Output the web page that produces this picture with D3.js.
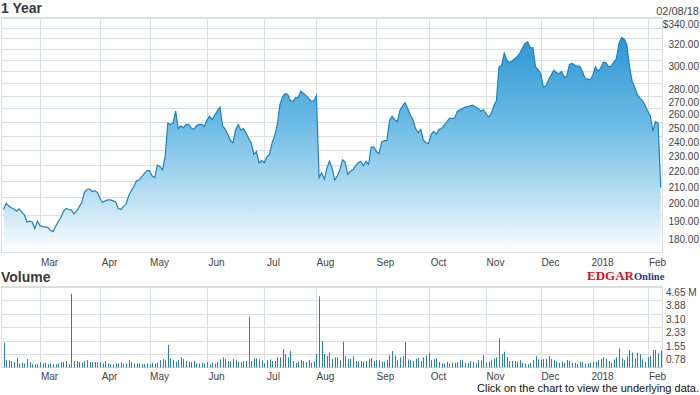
<!DOCTYPE html>
<html>
<head>
<meta charset="utf-8">
<script src="https://cdnjs.cloudflare.com/ajax/libs/d3/7.8.5/d3.min.js"></script>
<style>
body{margin:0;background:#fff;}
svg{display:block;font-family:"Liberation Sans",Arial,sans-serif;}
</style>
</head>
<body>
<div class="chart"></div>
<script>
// daily closing price, one value per trading day (02/08/17 .. 02/08/18)
const prices = [
	193,196.5,195,194,193.3,192,193.4,191.5,190,186,
	186.5,186,182.5,186.5,184,183.5,183.3,183,181.5,180.8,
	183.5,186.3,188.5,192,193.6,193,192.8,190.5,192,194.5,
	197,203,204.7,205,203.5,204,203,199.5,197,198,
	198.5,198.5,198,197.5,193.5,193,194.8,196,201,204,
	206.5,210,210.5,212.5,214.5,216.4,216.4,213,212,220,
	219,217,225.7,249,248,249,258,245,247,245.5,
	248,248,245.5,244.5,247,248,248,246.5,251,254,
	251.5,255,258,261,247,244.5,241,236.5,235,244,
	248,244,245,242,238,235,227,229,221.5,223,
	221.5,225.5,227,235,240,248,263,269,271.5,271,
	266,265.5,268.5,268.5,273.5,272,270,268,265.5,266,
	270,212,215,211,218,222.5,218,210.5,213,217,
	223.5,222,214,216,217,219.5,221.5,222.5,219.5,222.5,
	220.5,232,232,229,227.5,235.5,236.5,236.5,251,254,
	251.5,250,258.5,262,264.5,260,255,251.5,245,242,
	244.5,237,235,234.5,241,243,241,244.5,245,247.5,
	250,252.5,252.5,252.8,257.5,259,260,261,261.5,262,
	262.5,261,260,258,259,256,253.5,256,262,266,
	294,295,306,300,297.5,299,301,303,306,311,
	315,316.5,311,311,294,291.5,288,277,278,283,
	287,291,289,288,290,285,286,296,297,295.5,
	294.5,294.3,290,284,283.5,283,287,294,290,293,
	298,297.5,294,294.5,298,301,315,320.5,319,314,
	295,282,277,271,268,266,262.5,258,254.5,243,
	250,249,206
];

// daily volume, millions of shares
const volumes = [
	1.42,0.42,0.42,0.37,0.31,0.54,0.23,0.27,0.23,0.48,
	0.31,0.19,0.19,0.19,0.31,0.23,0.27,0.19,0.23,0.19,
	0.19,0.23,0.31,0.31,0.37,0.19,4.23,0.37,0.37,0.31,
	0.27,0.37,0.42,0.31,0.31,0.31,0.31,0.31,0.23,0.37,
	0.23,0.19,0.19,0.23,0.23,0.31,0.19,0.23,0.42,0.31,
	0.23,0.23,0.23,0.19,0.19,0.23,0.19,0.27,0.23,0.27,
	0.42,0.48,0.42,1.29,0.52,0.42,0.33,0.42,0.58,0.48,
	0.37,0.33,0.31,0.37,0.23,0.23,0.27,0.23,0.31,0.19,
	0.27,0.23,0.31,0.46,0.58,0.48,0.37,0.33,0.48,0.42,
	0.31,0.31,0.37,0.37,2.92,0.37,0.52,0.52,0.48,0.42,
	0.23,0.42,0.46,0.37,0.37,0.58,0.58,1.06,0.77,0.58,
	0.94,0.37,0.27,0.33,0.42,0.37,0.31,0.42,0.27,0.33,
	0.77,4.08,1.52,0.77,0.65,0.85,0.48,0.58,0.58,0.42,
	1.48,0.65,0.5,0.5,0.65,0.37,0.33,0.37,0.33,0.37,
	0.5,0.54,0.37,0.42,0.42,0.33,0.33,0.42,0.71,0.94,
	0.69,0.42,0.58,0.65,1.46,0.46,0.42,0.37,0.5,0.54,
	0.38,0.58,0.69,0.85,0.42,0.48,0.52,0.31,0.23,0.23,
	0.33,0.23,0.27,0.27,0.31,0.42,0.42,0.27,0.25,0.37,
	0.31,0.23,0.42,0.4,0.71,0.27,0.33,0.42,0.5,0.58,
	1.67,0.77,0.9,0.6,0.37,0.37,0.37,0.33,0.42,0.27,
	0.23,0.19,0.27,0.42,0.65,0.46,0.46,0.48,0.48,0.65,
	0.48,0.42,0.33,0.27,0.33,0.27,0.42,0.37,0.27,0.27,
	0.19,0.33,0.31,0.23,0.23,0.27,0.33,0.33,0.42,0.48,
	0.58,0.5,0.37,0.27,0.46,0.58,1.1,0.52,0.42,0.62,
	1.0,0.85,0.52,0.85,0.77,0.46,0.33,0.58,0.65,1.0,
	1.0,0.81,0.96
];

const monthLabels = ['Mar','Apr','May','Jun','Jul','Aug','Sep','Oct','Nov','Dec','2018','Feb'];
const monthStart = [14,37,56,78,100,120,143,163,185,206,226,247]; // trading-day index of 1st day

const priceGrid = [180,190,200,210,220,230,240,250,260,270,280,290,300,310,320,330,340];
const priceLabels = [340,320,300,280,270,260,250,240,230,220,210,200,190,180];
const volGrid = [0.775,1.55,2.325,3.1,3.875,4.65];
const volLabels = ['0.78','1.55','2.33','3.10','3.88','4.65 M'];

const width = 700;
const height = 395;
const left = 1.5, right = 662.5;

const svg = d3.select('.chart')
	.append('svg')
	.attr('width', width)
	.attr('height', height);

const x = d3.scaleLinear().domain([0, prices.length-1]).range([3.5, 660.7]);
const y = d3.scaleLog().domain([170, 340]).range([252.5, 17.5]);
const yv = d3.scaleLinear().domain([0, 4.65]).range([367.5, 286.5]);
const px = i => Math.round(x(i)) + 0.5;

const grad = svg.append('defs').append('linearGradient')
	.attr('id', 'fillGrad')
	.attr('gradientUnits', 'userSpaceOnUse')
	.attr('x1', 0).attr('x2', 0)
	.attr('y1', y(340)).attr('y2', y(170));
grad.append('stop').attr('offset', '0').attr('stop-color', '#1f8dcd');
grad.append('stop').attr('offset', '0.45').attr('stop-color', '#6cbbe5');
grad.append('stop').attr('offset', '0.8').attr('stop-color', '#c4e3f4');
grad.append('stop').attr('offset', '1').attr('stop-color', '#ffffff');

const gridColor = '#dcdfe2';

// ---- price panel ----
svg.selectAll('line.pgh')
	.data(priceGrid)
	.enter()
	.append('line')
	.attr('class', 'pgh')
	.attr('x1', left).attr('x2', right)
	.attr('y1', d => Math.round(y(d)) + 0.5)
	.attr('y2', d => Math.round(y(d)) + 0.5)
	.attr('stroke', gridColor);

svg.selectAll('line.pgv')
	.data(monthStart)
	.enter()
	.append('line')
	.attr('class', 'pgv')
	.attr('x1', d => px(d)).attr('x2', d => px(d))
	.attr('y1', y(340)).attr('y2', y(170))
	.attr('stroke', gridColor);

svg.append('path')
	.datum(prices)
	.attr('d', d3.area().x((d,i) => x(i)).y0(y(170)).y1(d => y(d)))
	.attr('fill', 'url(#fillGrad)');

svg.append('path')
	.datum(prices)
	.attr('d', d3.line().x((d,i) => x(i)).y(d => y(d)))
	.attr('fill', 'none')
	.attr('stroke', '#1b84c0')
	.attr('stroke-width', 1.2);

svg.append('rect')
	.attr('x', left).attr('y', y(340))
	.attr('width', right-left).attr('height', y(170)-y(340))
	.attr('fill', 'none')
	.attr('stroke', gridColor);

svg.selectAll('text.plab')
	.data(priceLabels)
	.enter()
	.append('text')
	.attr('class', 'plab')
	.text(d => (d === 340 ? '$' : '') + d.toFixed(2))
	.attr('x', 699)
	.attr('y', d => Math.round(y(d)) + 9.5)
	.attr('text-anchor', 'end')
	.attr('font-size', 10)
	.attr('fill', '#444');

svg.selectAll('text.mlab')
	.data(monthStart)
	.enter()
	.append('text')
	.attr('class', 'mlab')
	.text((d,i) => monthLabels[i])
	.attr('x', d => px(d) + 9)
	.attr('y', 266)
	.attr('text-anchor', 'middle')
	.attr('font-size', 10)
	.attr('fill', '#444');

// ---- volume panel ----
svg.selectAll('line.vgh')
	.data(volGrid)
	.enter()
	.append('line')
	.attr('class', 'vgh')
	.attr('x1', left).attr('x2', right)
	.attr('y1', d => Math.round(yv(d)) + 0.5)
	.attr('y2', d => Math.round(yv(d)) + 0.5)
	.attr('stroke', gridColor);

svg.selectAll('line.vgv')
	.data(monthStart)
	.enter()
	.append('line')
	.attr('class', 'vgv')
	.attr('x1', d => px(d)).attr('x2', d => px(d))
	.attr('y1', yv(4.65)).attr('y2', yv(0))
	.attr('stroke', gridColor);

svg.append('rect')
	.attr('x', left).attr('y', yv(4.65))
	.attr('width', right-left).attr('height', yv(0)-yv(4.65))
	.attr('fill', 'none')
	.attr('stroke', gridColor);

svg.selectAll('line.bar')
	.data(volumes)
	.enter()
	.append('line')
	.attr('class', 'bar')
	.attr('x1', (d,i) => px(i)).attr('x2', (d,i) => px(i))
	.attr('y1', yv(0)).attr('y2', d => yv(d))
	.attr('stroke', '#2381b3')
	.attr('stroke-width', 1);

svg.selectAll('text.vlab')
	.data(volGrid)
	.enter()
	.append('text')
	.attr('class', 'vlab')
	.text((d,i) => volLabels[i])
	.attr('x', 666)
	.attr('y', d => Math.round(yv(d)) + 8.5)
	.attr('font-size', 10)
	.attr('fill', '#444');

svg.selectAll('text.vmlab')
	.data(monthStart)
	.enter()
	.append('text')
	.attr('class', 'vmlab')
	.text((d,i) => monthLabels[i])
	.attr('x', d => px(d) + 9)
	.attr('y', 380)
	.attr('text-anchor', 'middle')
	.attr('font-size', 10)
	.attr('fill', '#444');

// ---- titles ----
svg.append('text')
	.text('1 Year')
	.attr('x', 1).attr('y', 13)
	.attr('font-size', 14)
	.attr('font-weight', 'bold')
	.attr('fill', '#3a3a3a');

svg.append('text')
	.text('Volume')
	.attr('x', 1).attr('y', 282)
	.attr('font-size', 14)
	.attr('font-weight', 'bold')
	.attr('fill', '#3a3a3a');

svg.append('text')
	.text('02/08/18')
	.attr('x', 699).attr('y', 15)
	.attr('text-anchor', 'end')
	.attr('font-size', 11)
	.attr('fill', '#444');

svg.append('text')
	.text('Click on the chart to view the underlying data.')
	.attr('x', 699).attr('y', 392)
	.attr('text-anchor', 'end')
	.attr('font-size', 11)
	.attr('fill', '#111');

// EDGAR Online logo
const logo = svg.append('text')
	.attr('x', 587).attr('y', 280)
	.attr('font-family', '"Liberation Serif","Times New Roman",serif')
	.attr('font-weight', 'bold');
logo.append('tspan').text('EDGAR').attr('font-size', 13).attr('fill', '#d8141c');
logo.append('tspan').text('Online').attr('font-size', 10.5).attr('fill', '#1c3f7c');
</script>
</body>
</html>
